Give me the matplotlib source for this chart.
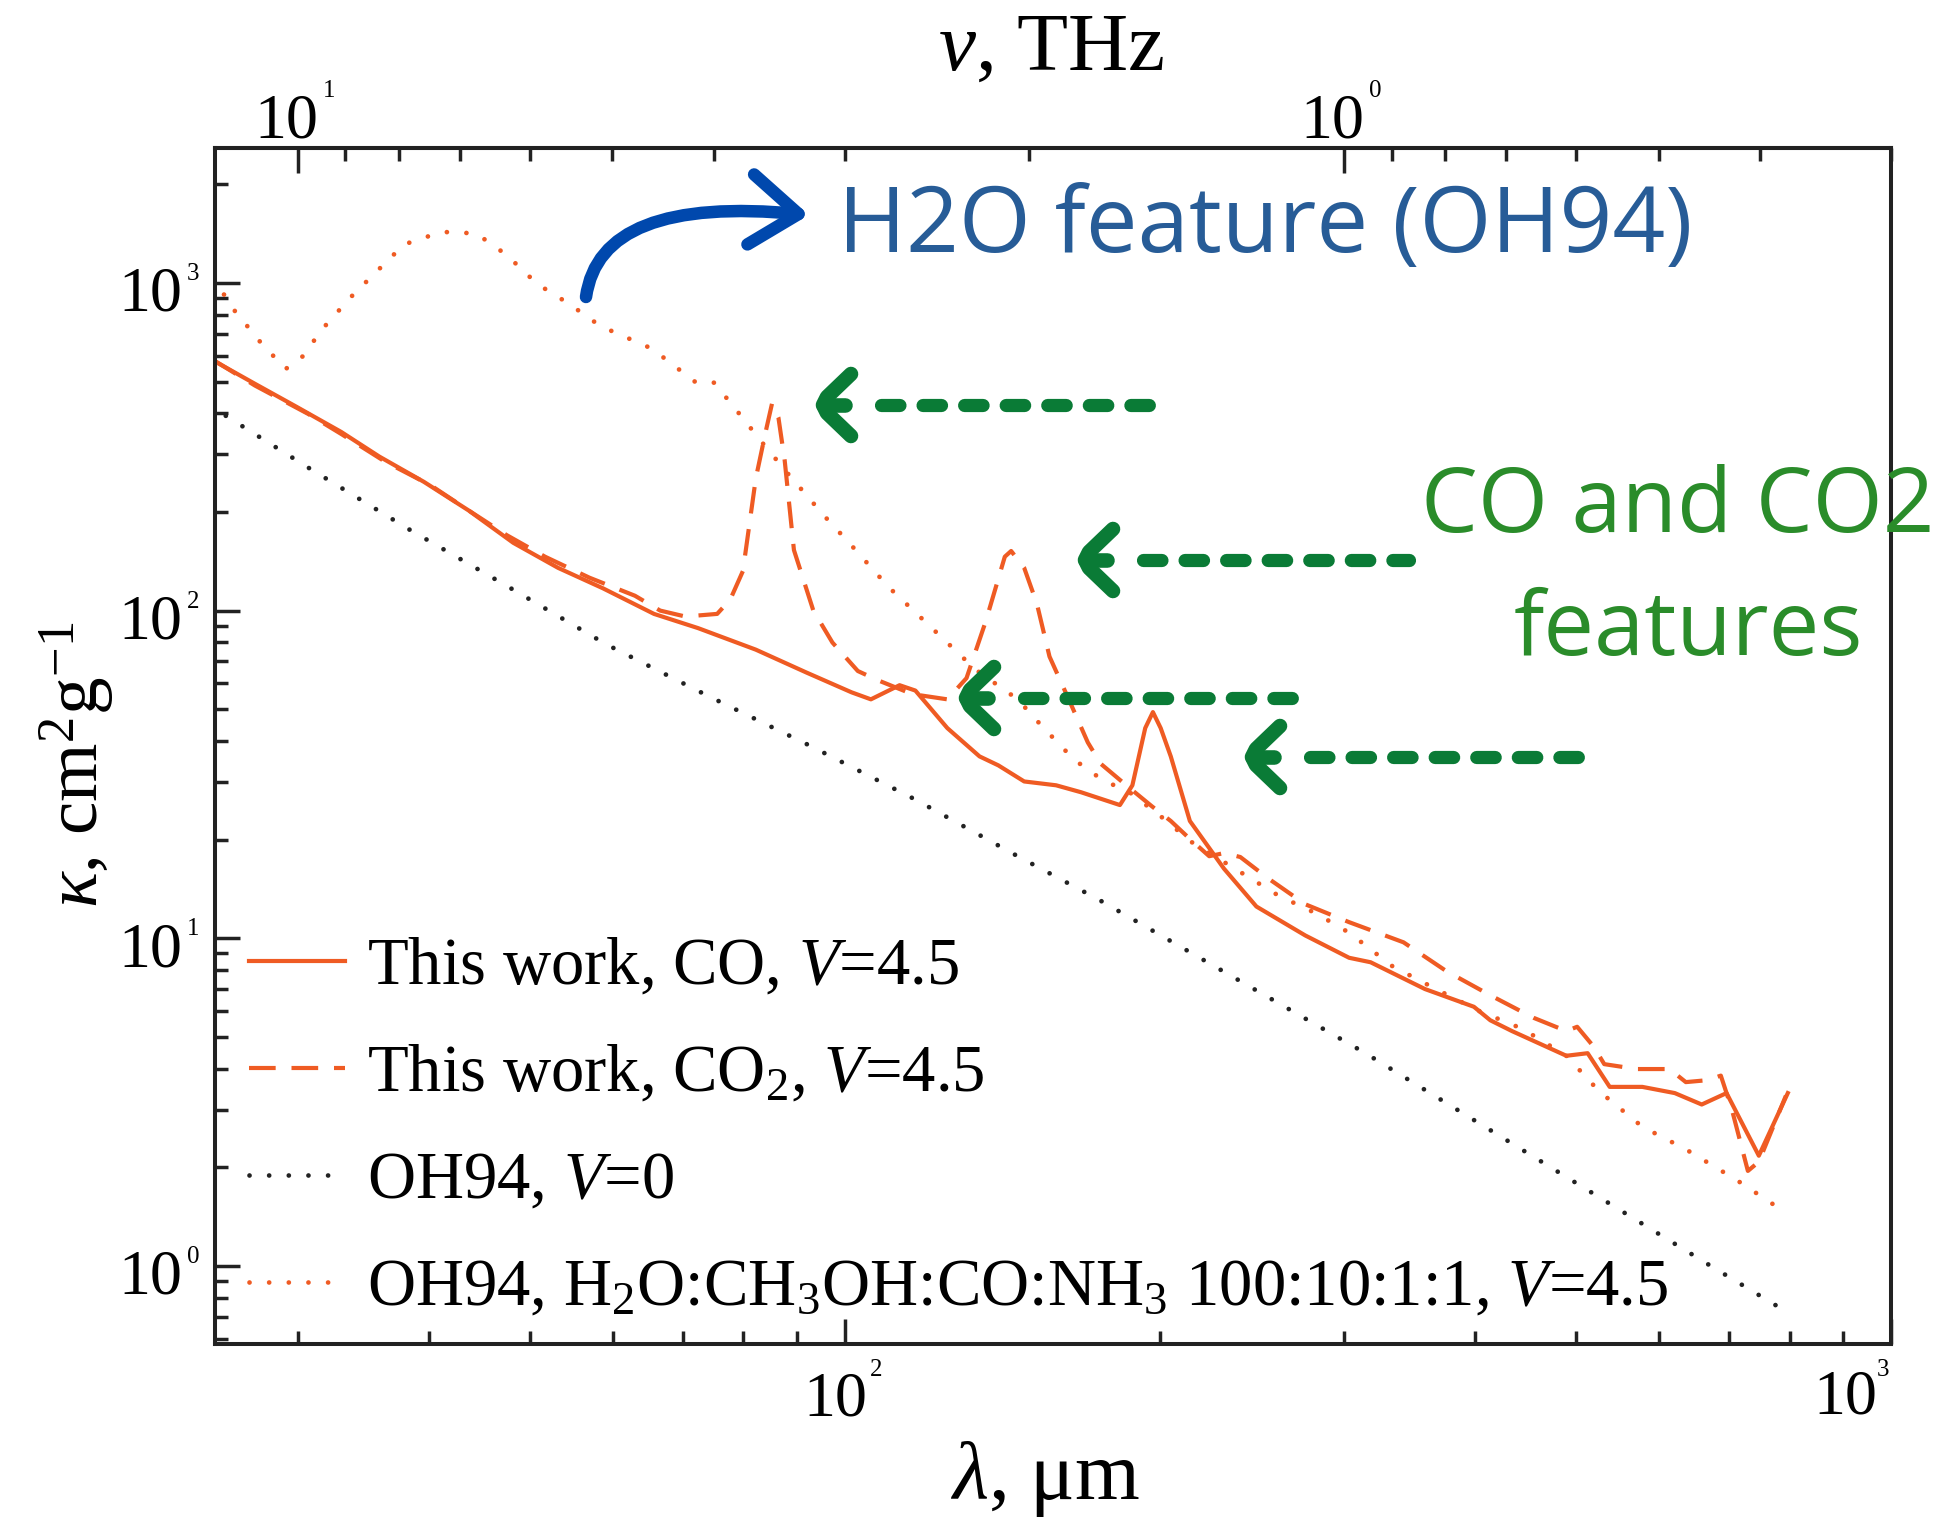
import numpy as np
import matplotlib
matplotlib.use('Agg')
import matplotlib.pyplot as plt
from matplotlib.ticker import LogLocator, NullFormatter
from matplotlib.patches import FancyArrowPatch
from matplotlib.path import Path
from matplotlib.lines import Line2D

plt.rcParams['font.family'] = ['Liberation Serif', 'DejaVu Serif']
plt.rcParams['mathtext.fontset'] = 'custom'
plt.rcParams['mathtext.rm'] = 'Liberation Serif'
plt.rcParams['mathtext.it'] = 'Liberation Serif:italic'
plt.rcParams['mathtext.bf'] = 'Liberation Serif:bold'

# ---------------- data (wavelength in um, opacity in cm^2/g) ----------------
co_lam = [24.9, 27.3, 29.9, 33.0, 35.9, 39.6, 43.7, 48.2, 53.2, 58.7, 65.7,
          72.4, 82.2, 91.9, 101.5, 105.9, 112.8, 116.8, 125.3, 134.5, 140.2,
          148.4, 159.2, 168.2, 183.2, 188.3, 193.7, 197.0, 200.4, 204.9, 213.7,
          230.4, 247.4, 275.5, 303.4, 318.1, 358.5, 399.3, 414.0, 434.2, 489.4,
          512.9, 538.4, 578.5, 621.3, 659.3, 696.3, 747.6, 796.8]
co_kap = [580, 492, 419, 351, 295, 247, 202, 161, 135, 117, 97.7,
          88.4, 76.0, 64.7, 56.3, 53.6, 59.2, 57.0, 43.8, 35.9, 33.7,
          30.1, 29.3, 27.9, 25.5, 29.3, 43.8, 49.0, 43.8, 35.9, 22.8,
          16.3, 12.5, 10.2, 8.72, 8.45, 7.00, 6.18, 5.62, 5.21, 4.38,
          4.46, 3.52, 3.52, 3.37, 3.11, 3.37, 2.17, 3.37]

co2_lam = [24.9, 27.3, 30.7, 33.0, 36.4, 40.2, 43.7, 47.5, 51.7, 57.0, 63.0,
           66.6, 70.4, 75.5, 77.7, 79.9, 82.2, 84.0, 85.2, 86.4, 87.6,
           89.4, 93.3, 97.3, 102.9, 107.4, 116.0, 125.3, 130.7, 136.4, 142.2,
           144.2, 148.4, 152.6, 156.9, 163.7, 170.7, 175.6, 185.8, 196.5, 204.9,
           213.7, 223.0, 230.4, 238.8, 253.4, 275.5, 303.4, 342.0, 375.8, 414.0,
           455.3, 489.4, 501.2, 519.8, 532.0, 571.3, 614.1, 636.6, 667.7, 687.6,
           704.4, 729.8, 747.6, 793.5]
co2_kap = [582, 486, 398, 346, 284, 241, 202, 170, 146, 126, 111,
           100, 95.9, 97.7, 108, 132, 253, 351, 429, 388, 287,
           153, 100, 79.9, 65.4, 61.4, 55.6, 53.6, 62.2, 93.0, 146,
           152, 135, 105, 72.4, 53.6, 39.6, 34.1, 29.3, 25.3, 22.8,
           20.1, 17.8, 18.2, 17.7, 15.3, 12.7, 11.2, 9.72, 7.94, 6.70,
           5.72, 5.21, 5.37, 4.67, 4.13, 3.99, 3.99, 3.64, 3.69, 3.81,
           3.01, 1.95, 2.08, 3.31]

oh0_lam = [25.6, 30.7, 38.2, 47.5, 59.1, 74.0, 92.6, 116.8, 146.3, 175.0,
           314.5, 672.6, 778.0]
oh0_kap = [393, 273, 178, 119, 79.0, 54.9, 38.7, 26.5, 17.8, 13.1,
           4.46, 1.00, 0.755]

ohmix_lam = [24.9, 26.1, 27.6, 29.2, 30.2, 31.7, 33.7, 35.7, 37.9, 41.0, 42.6,
             44.6, 47.5, 50.8, 54.5, 58.4, 65.4, 72.1, 75.0, 79.2, 83.6, 88.2,
             95.5, 101.3, 110.1, 120.6, 133.3, 146.3, 154.3, 165.6, 176.1, 187.4,
             202.0, 214.3, 236.0, 259.7, 282.3, 303.4, 333.7, 367.3, 404.4, 444.5,
             489.4, 525.7, 578.5, 636.6, 711.8, 791.8]
ohmix_kap = [1034, 823, 662, 546, 587, 726, 904, 1085, 1310, 1425, 1434,
             1403, 1217, 993, 863, 738, 630, 496, 496, 400, 322, 262,
             195, 159, 118, 89.6, 66.1, 53.6, 44.4, 35.1, 30.5, 27.8,
             23.1, 19.7, 16.3, 13.5, 11.9, 10.4, 8.22, 7.00, 5.99, 5.29,
             4.38, 3.42, 2.66, 2.27, 1.83, 1.46]

legend_labels = ['This work, CO, $V$=4.5',
                 'This work, CO$_2$, $V$=4.5',
                 'OH94, $V$=0',
                 'OH94, H$_2$O:CH$_3$OH:CO:NH$_3$ 100:10:1:1, $V$=4.5']

xlim = (25, 1000)
ylim = (0.578, 2580)
y_major = [1, 10, 100, 1000]
x_major = [100, 1000]
top_major_thz = [10, 1]
C_UM_THZ = 299.792458

ORANGE = '#EF5B23'
BLACK = '#222222'
BLUE_ARROW = '#0048AD'
BLUE_TXT = '#275C97'
GREEN_TXT = '#2A8C2A'
GREEN_ARR = '#0A7B36'

# ---------------- figure ----------------
W, H = 1951, 1520
fig = plt.figure(figsize=(W / 100, H / 100), dpi=100)


def fx(px):
    return px / W


def fy(py):
    return 1 - py / H


ax = fig.add_axes([fx(215), fy(1344), (1891 - 215) / W, (1344 - 148) / H])
ax.set_xscale('log')
ax.set_yscale('log')
ax.set_xlim(*xlim)
ax.set_ylim(*ylim)

l1, = ax.plot(co_lam, co_kap, color=ORANGE, lw=3.0, solid_joinstyle='round')
l2, = ax.plot(co2_lam, co2_kap, color=ORANGE, lw=3.0, ls=(0, (6.4, 3.8)))
l3, = ax.plot(oh0_lam, oh0_kap, color=BLACK, lw=3.4, ls=(0, (0.01, 4.15)),
              dash_capstyle='round')
l4, = ax.plot(ohmix_lam, ohmix_kap, color=ORANGE, lw=3.4, ls=(0, (0.01, 4.15)),
              dash_capstyle='round')

for s in ax.spines.values():
    s.set_linewidth(2.9)
    s.set_color(BLACK)

ax.xaxis.set_major_locator(LogLocator(base=10, numticks=10))
ax.xaxis.set_minor_locator(LogLocator(base=10, subs=np.arange(2, 10), numticks=20))
ax.yaxis.set_major_locator(LogLocator(base=10, numticks=10))
ax.yaxis.set_minor_locator(LogLocator(base=10, subs=np.arange(2, 10), numticks=20))
for axis in (ax.xaxis, ax.yaxis):
    axis.set_major_formatter(NullFormatter())
    axis.set_minor_formatter(NullFormatter())
ax.tick_params(which='both', direction='in', top=False, right=False,
               color=BLACK, width=2.5)
ax.tick_params(which='major', length=18)
ax.tick_params(which='minor', length=9.5)


def lam2nu(x):
    x = np.asarray(x, dtype=float)
    with np.errstate(divide='ignore', invalid='ignore'):
        return C_UM_THZ / x


sec = ax.secondary_xaxis('top', functions=(lam2nu, lam2nu))
sec.xaxis.set_major_formatter(NullFormatter())
sec.xaxis.set_minor_formatter(NullFormatter())
sec.tick_params(which='both', direction='in', color=BLACK, width=2.5)
sec.tick_params(which='major', length=18)
sec.tick_params(which='minor', length=9.5)
sec.spines['top'].set_linewidth(2.9)
sec.spines['top'].set_color(BLACK)

TICK_FS = 46
EXP_FS = 18


def pow_label(xy, trans, exp, off10, ha10, offexp):
    ax.annotate('10', xy=xy, xycoords=trans, xytext=off10,
                textcoords='offset pixels', ha=ha10, va='baseline',
                fontsize=TICK_FS, annotation_clip=False)
    ax.annotate(str(exp), xy=xy, xycoords=trans, xytext=offexp,
                textcoords='offset pixels', ha='left', va='baseline',
                fontsize=EXP_FS, annotation_clip=False)


for v in y_major:
    pow_label((0, v), ax.get_yaxis_transform(), int(round(np.log10(v))),
              (-33, -28), 'right', (-28, 3))
for v in x_major:
    e = int(round(np.log10(v)))
    if v >= xlim[1] * 0.999:
        pow_label((v, 0), ax.get_xaxis_transform(), e, (-78, -70), 'left', (-14, -32))
    else:
        pow_label((v, 0), ax.get_xaxis_transform(), e, (-10, -72), 'center', (25, -32))
for nu in top_major_thz:
    lam = float(lam2nu(nu))
    e = int(round(np.log10(nu)))
    pow_label((lam, 1), ax.get_xaxis_transform(), e, (-11, 11), 'center', (25, 51))

# axis labels
fig.text(fx(1051), fy(70), r'$\nu$, THz', ha='center', va='baseline', fontsize=60)
fig.text(fx(1045), fy(1499), r'$\lambda$, μm', ha='center', va='baseline', fontsize=60)
fig.text(fx(98), fy(765), r'$\kappa$, cm$^2$g$^{-1}$', rotation=90,
         rotation_mode='anchor', ha='center', va='baseline', fontsize=54)

# legend
ax.legend([l1, l2, l3, l4], legend_labels, loc='lower left',
          bbox_to_anchor=(0.02, 0.021), frameon=False, fontsize=48,
          handlelength=1.45, handletextpad=0.33, labelspacing=0.69,
          borderpad=0, borderaxespad=0)

# ---------------- annotations ----------------
verts = [(fx(586), fy(297)), (fx(600), fy(195)), (fx(809), fy(215))]
arrow = FancyArrowPatch(path=Path(verts, [Path.MOVETO, Path.CURVE3, Path.CURVE3]),
                        arrowstyle='->,head_length=0.75,head_width=0.55',
                        mutation_scale=46, lw=9, color=BLUE_ARROW,
                        transform=fig.transFigure, capstyle='round',
                        joinstyle='round')
fig.add_artist(arrow)

fig.text(fx(838), fy(252), 'H2O feature (OH94)', family='Open Sans',
         fontsize=66.5, color=BLUE_TXT, ha='left', va='baseline')
fig.text(fx(1678), fy(532), 'CO and CO2', family='Open Sans',
         fontsize=65, color=GREEN_TXT, ha='center', va='baseline')
fig.text(fx(1688), fy(655), 'features', family='Open Sans',
         fontsize=65, color=GREEN_TXT, ha='center', va='baseline')

green_arrows = [(823, 405, 1157), (1085, 560, 1416), (966, 698, 1300), (1252, 757, 1585)]
for tip, yy, tail in green_arrows:
    fig.add_artist(Line2D([fx(tip + 28), fx(tip + 4), fx(tip), fx(tip + 4), fx(tip + 28)],
                          [fy(yy - 31), fy(yy - 8), fy(yy), fy(yy + 8), fy(yy + 31)],
                          transform=fig.transFigure, color=GREEN_ARR, lw=10.5,
                          solid_capstyle='round', solid_joinstyle='round'))
    fig.add_artist(Line2D([fx(tip), fx(tip + 22)], [fy(yy), fy(yy)],
                          transform=fig.transFigure, color=GREEN_ARR, lw=10.5,
                          solid_capstyle='round'))
    fig.add_artist(Line2D([fx(tip + 58), fx(tail - 7)], [fy(yy), fy(yy)],
                          transform=fig.transFigure, color=GREEN_ARR, lw=9.5,
                          ls=(0, (1.4, 1.75)), dash_capstyle='round'))

fig.savefig('out.png', dpi=100)
